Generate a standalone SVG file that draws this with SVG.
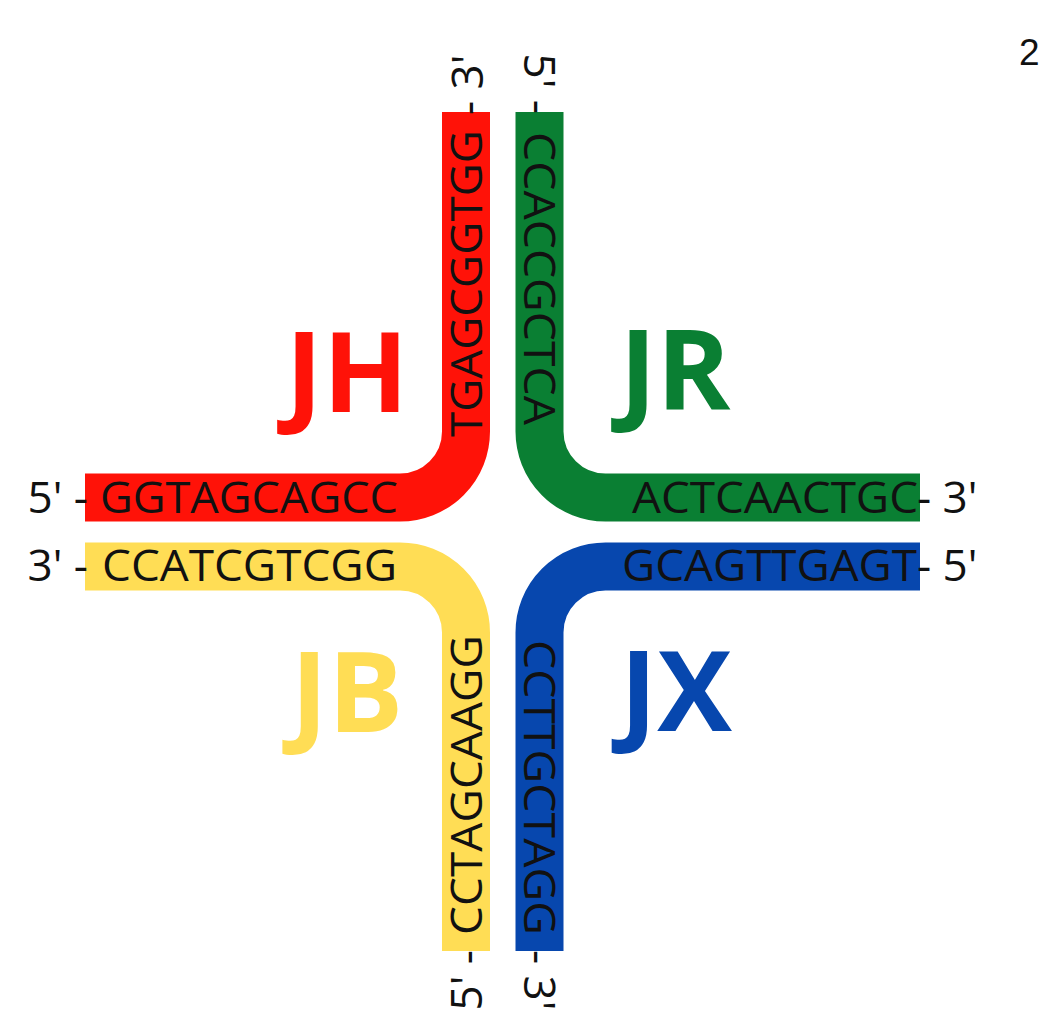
<svg xmlns="http://www.w3.org/2000/svg" width="1043" height="1014" viewBox="0 0 1043 1014">
  <style>
    .band { fill: none; stroke-width: 48; stroke-linecap: butt; }
    .seq { font-family: "Open Sans", "Noto Sans", "DejaVu Sans", sans-serif; font-size: 44px; fill: #111; }
    .end { font-family: "Open Sans", "Noto Sans", "DejaVu Sans", sans-serif; font-size: 44px; fill: #111; }
    .name { font-family: "Open Sans", "Noto Sans", "DejaVu Sans", sans-serif; font-size: 112px; font-weight: 700; }
    .red { stroke: #FF1208; } .redf { fill: #FF1208; }
    .green { stroke: #0A7F33; } .greenf { fill: #0A7F33; }
    .yellow { stroke: #FFDD55; } .yellowf { fill: #FFDD55; }
    .blue { stroke: #0747AE; } .bluef { fill: #0747AE; }
  </style>
  <rect width="1043" height="1014" fill="#ffffff"/>

  <text x="1019" y="65" font-family="'Liberation Sans', Arial, sans-serif" font-size="37" fill="#111">2</text>

  <!-- JH strand: 5' end on the left, 3' end at the top -->
  <g id="JH">
    <path class="band red" d="M85 497.5 H400 A66 66 0 0 0 466 431.5 V112"/>
    <text class="seq" x="100" y="513" textLength="298" lengthAdjust="spacingAndGlyphs">GGTAGCAGCC</text>
    <text class="end" x="88" y="513" text-anchor="end">5' -</text>
    <text class="seq" transform="translate(482 437) rotate(-90)" x="0" y="0" textLength="307" lengthAdjust="spacingAndGlyphs">TGAGCGGTGG</text>
    <text class="end" transform="translate(483 115) rotate(-90)" x="0" y="0">- 3'</text>
    <text class="name redf" x="347" y="412" text-anchor="middle">JH</text>
  </g>

  <!-- JR strand: 5' end at the top, 3' end on the right -->
  <g id="JR">
    <path class="band green" d="M920 497.5 H605.5 A66 66 0 0 1 539.5 431.5 V112"/>
    <text class="seq" x="632" y="513" textLength="286" lengthAdjust="spacingAndGlyphs">ACTCAACTGC</text>
    <text class="end" x="917" y="513">- 3'</text>
    <text class="seq" transform="translate(524 132) rotate(90)" x="0" y="0" textLength="293" lengthAdjust="spacingAndGlyphs">CCACCGCTCA</text>
    <text class="end" transform="translate(524 114) rotate(90)" x="0" y="0" text-anchor="end">5' -</text>
    <text class="name greenf" x="675" y="410" text-anchor="middle">JR</text>
  </g>

  <!-- JB strand: 3' end on the left, 5' end at the bottom -->
  <g id="JB">
    <path class="band yellow" d="M85 566.5 H400 A66 66 0 0 1 466 632.5 V951"/>
    <text class="seq" x="102" y="581" textLength="295" lengthAdjust="spacingAndGlyphs">CCATCGTCGG</text>
    <text class="end" x="88" y="581" text-anchor="end">3' -</text>
    <text class="seq" transform="translate(482 935) rotate(-90)" x="0" y="0" textLength="300" lengthAdjust="spacingAndGlyphs">CCTAGCAAGG</text>
    <text class="end" transform="translate(482 950) rotate(-90)" x="0" y="0" text-anchor="end">5' -</text>
    <text class="name yellowf" x="347" y="732" text-anchor="middle">JB</text>
  </g>

  <!-- JX strand: 5' end on the right, 3' end at the bottom -->
  <g id="JX">
    <path class="band blue" d="M920 566.5 H605.5 A66 66 0 0 0 539.5 632.5 V951"/>
    <text class="seq" x="622" y="581" textLength="295" lengthAdjust="spacingAndGlyphs">GCAGTTGAGT</text>
    <text class="end" x="917" y="581">- 5'</text>
    <text class="seq" transform="translate(524 640) rotate(90)" x="0" y="0" textLength="295" lengthAdjust="spacingAndGlyphs">CCTTGCTAGG</text>
    <text class="end" transform="translate(524 950) rotate(90)" x="0" y="0">- 3'</text>
    <text class="name bluef" x="676" y="731" text-anchor="middle">JX</text>
  </g>

  <g id="connectors"></g>
</svg>
